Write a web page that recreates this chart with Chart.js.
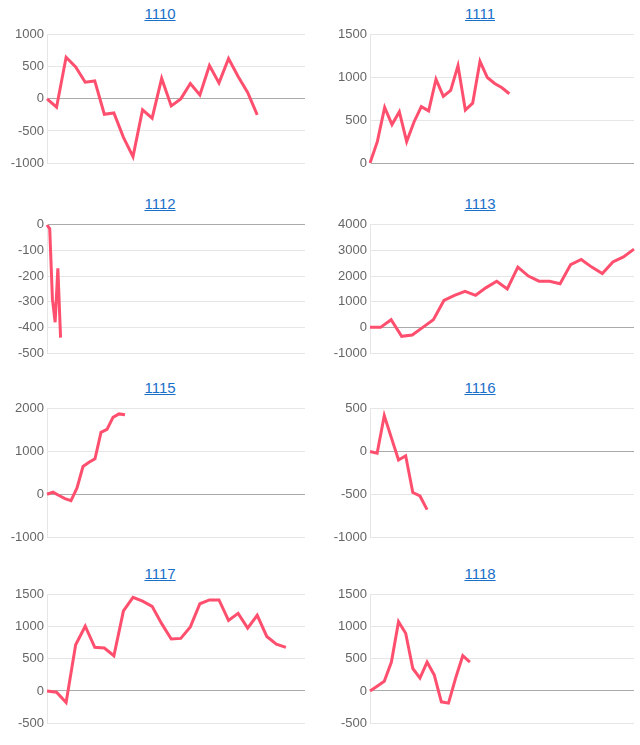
<!DOCTYPE html>
<html>
<head>
<meta charset="utf-8">
<script src="https://cdn.jsdelivr.net/npm/chart.js@4"></script>
<style>
  body { margin: 0; background: #fff; font-family: "Liberation Sans", Arial, sans-serif; }
  .cell { position: absolute; width: 320px; height: 186px; }
  .cell a { position: absolute; top: 5px; left: 0; width: 100%; text-align: center;
            color: #1a6fc9; text-decoration: underline; font-size: 15px; }
  .cell .box { position: absolute; top: 24px; left: 0; width: 320px; height: 153px; }
</style>
</head>
<body>
<div id="grid"></div>
<script>
// ---- data ----
const titles = ["1110", "1111", "1112", "1113", "1115", "1116", "1117", "1118"];
const slots  = [28, 37, 96, 26, 44, 38, 28, 38];
const v1110 = [0,-130,650,500,260,280,-240,-220,-600,-900,-170,-300,320,-110,0,240,60,520,250,630,350,100,-250];
const v1111 = [0,250,650,450,600,250,480,660,610,980,780,850,1140,620,700,1190,1000,930,880,810];
const v1112 = [0,-15,-290,-380,-170,-440];
const v1113 = [0,0,300,-350,-300,0,300,1050,1250,1400,1250,1550,1800,1500,2350,2000,1800,1800,1700,2450,2650,2350,2100,2550,2750,3050];
const v1115 = [0,50,-30,-100,-150,150,650,750,830,1450,1520,1800,1880,1860];
const v1116 = [0,-20,420,160,-100,-50,-480,-520,-680];
const v1117 = [0,-20,-180,720,1010,680,670,550,1250,1460,1400,1320,1050,810,820,1000,1360,1420,1420,1100,1210,980,1180,850,730,680];
const v1118 = [0,75,150,450,1080,900,350,200,450,250,-170,-190,200,550,450];
const series = [v1110, v1111, v1112, v1113, v1115, v1116, v1117, v1118];
// y axis ranges [min, max, step]
const yRange = [[-1000,1000,500],[0,1500,500],[-500,0,100],[-1000,4000,1000],
                [-1000,2000,1000],[-1000,500,500],[-500,1500,500],[-500,1500,500]];
const rowTop = [0, 190, 374, 560];

const grid = document.getElementById("grid");
series.forEach((vals, i) => {
  const right = i % 2 === 1;
  const cell = document.createElement("div");
  cell.className = "cell";
  cell.style.left = (right ? 320 : 0) + "px";
  cell.style.top = rowTop[Math.floor(i / 2)] + "px";
  cell.innerHTML = `<a href="#">${titles[i]}</a><div class="box"><canvas></canvas></div>`;
  grid.appendChild(cell);

  const labels = Array.from({ length: slots[i] }, (_, k) => k + 1);
  const [mn, mx, st] = yRange[i];
  new Chart(cell.querySelector("canvas"), {
    type: "line",
    data: {
      labels,
      datasets: [{
        data: vals,
        borderColor: "#ff4f6e",
        borderWidth: 3,
        pointRadius: 0,
        tension: 0,
        fill: false,
      }],
    },
    options: {
      responsive: true,
      maintainAspectRatio: false,
      animation: false,
      layout: { padding: { top: 4, right: right ? 6 : 15, bottom: 6, left: 0 } },
      plugins: { legend: { display: false }, tooltip: { enabled: false } },
      scales: {
        x: {
          ticks: { display: false },
          grid: { display: false },
          border: { display: false },
        },
        y: {
          min: mn, max: mx,
          ticks: { stepSize: st, color: "#666", font: { size: 13 }, callback: (v) => String(v) },
          grid: {
            color: (c) => (c.tick && c.tick.value === 0 ? "#aaa" : "#e6e6e6"),
            drawTicks: false,
          },
          border: { display: true, color: "#e6e6e6" },
          afterFit: (s) => { s.width = right ? 50 : 47; },
        },
      },
    },
  });
});
</script>
</body>
</html>
